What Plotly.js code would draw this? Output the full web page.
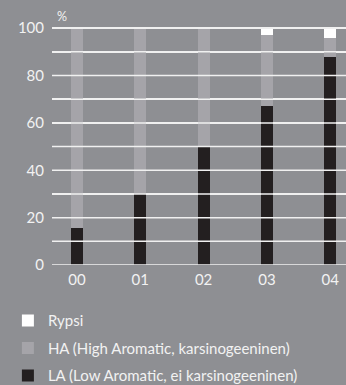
<!DOCTYPE html>
<html><head><meta charset="utf-8">
<script src="https://cdn.plot.ly/plotly-3.0.1.min.js"></script>
<style>html,body{margin:0;padding:0;background:#8e8f93;}</style>
</head><body>
<div id="chart" style="width:346px;height:385px;"></div>
<script>
const categories = ['00', '01', '02', '03', '04'];
const laValues = [15.5, 30, 50, 67, 88];
const haValues = [84.5, 70, 50, 30, 8];
const rypsiValues = [0, 0, 0, 3, 4];
const yTickVals = [0, 10, 20, 30, 40, 50, 60, 70, 80, 90, 100];
const yTickText = ['0', '', '20', '', '40', '', '60', '', '80', '', '100'];

const textColor = '#f2f2f2';
const gridColor = '#f0f0f0';
const fontFam = 'Lato, "Open Sans", sans-serif';

// grid lines drawn as a line trace on an overlaid 0..1 x axis, one segment per y tick value
const gridX = [], gridY = [];
yTickVals.forEach(v => { gridX.push(0, 1, null); gridY.push(v, v, null); });

const traces = [
  {type: 'scatter', mode: 'lines', x: gridX, y: gridY, xaxis: 'x2', yaxis: 'y',
   line: {color: gridColor, width: 1.5}, showlegend: false, hoverinfo: 'skip', connectgaps: false},
  {type: 'bar', name: 'LA (Low Aromatic, ei karsinogeeninen)', x: categories, y: laValues, marker: {color: '#231f20'}, width: 0.19, legendrank: 3, legendgroup: 'la'},
  {type: 'bar', name: 'HA (High Aromatic, karsinogeeninen)', x: categories, y: haValues, marker: {color: '#a5a4a9'}, width: 0.19, legendrank: 2, legendgroup: 'ha'},
  {type: 'bar', name: 'Rypsi', x: categories, y: rypsiValues, marker: {color: '#ffffff'}, width: 0.19, legendrank: 1, legendgroup: 'ry'}
];

const layout = {
  width: 346, height: 385,
  paper_bgcolor: '#8e8f93', plot_bgcolor: '#8e8f93',
  barmode: 'stack',
  margin: {l: 52, r: 0, t: 27, b: 120, autoexpand: false},
  font: {family: fontFam, color: textColor, size: 15},
  showlegend: true,
  legend: {orientation: 'v', x: -0.15, xanchor: 'left', y: -0.165, yanchor: 'top',
           traceorder: 'grouped', font: {size: 15, color: textColor, family: fontFam},
           itemwidth: 30, tracegroupgap: 5, bgcolor: 'rgba(0,0,0,0)'},
  xaxis: {type: 'category', range: [-0.395, 4.25], showgrid: false, zeroline: false,
          showline: false, ticks: '', ticklabelstandoff: 4, tickfont: {size: 15, color: textColor}, fixedrange: true},
  xaxis2: {overlaying: 'x', range: [0, 1], visible: false, showgrid: false, zeroline: false, fixedrange: true},
  yaxis: {range: [0, 100.5], tickmode: 'array', tickvals: yTickVals, ticktext: yTickText,
          showgrid: true, gridcolor: gridColor, gridwidth: 1.5, layer: 'below traces',
          zeroline: false,
          ticks: '', ticklabelstandoff: 7, tickfont: {size: 15, color: textColor}, fixedrange: true},
  annotations: [{text: '%', xref: 'paper', yref: 'paper', x: 0.01, y: 1.0, xanchor: 'left', yanchor: 'bottom',
                 showarrow: false, font: {size: 12.5, color: textColor, family: fontFam}, yshift: 1}]
};

Plotly.newPlot('chart', traces, layout, {displayModeBar: false, staticPlot: true});
</script>
</body></html>
